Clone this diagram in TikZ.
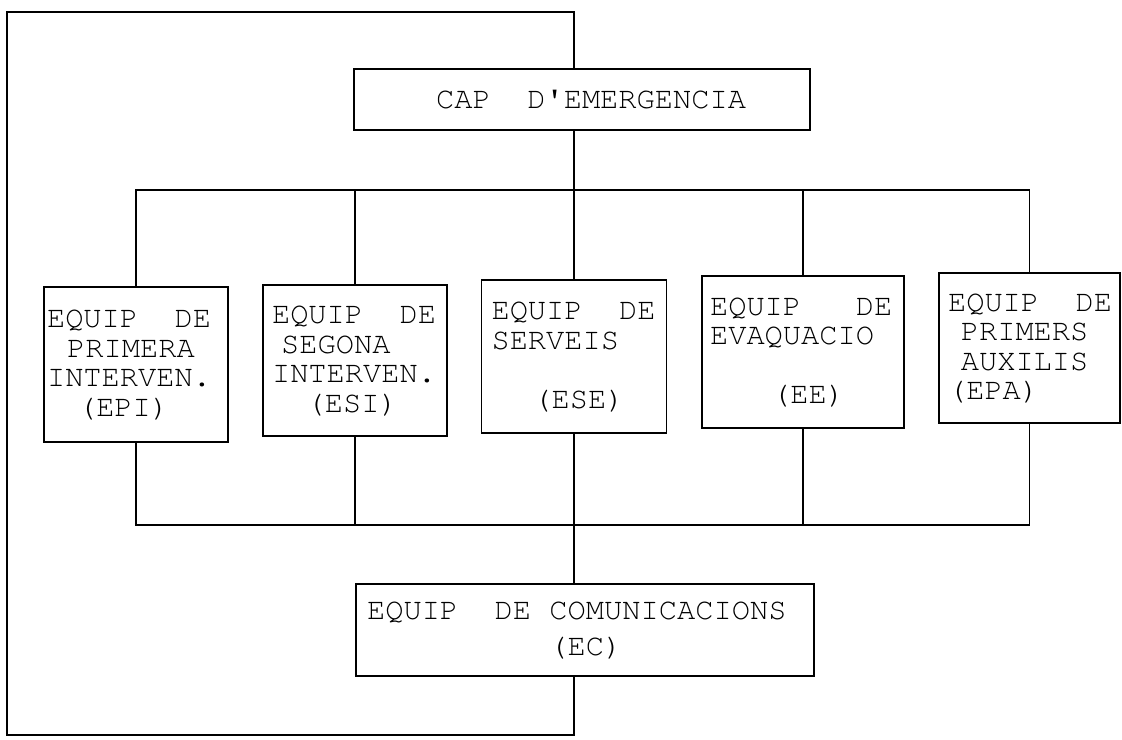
\documentclass[tikz,border=0pt]{standalone}
\usepackage[T1]{fontenc}
\usepackage{courier}
\usepackage{tikz}

\newlength{\cw}
\setlength{\cw}{10.38pt}
\newcommand{\gap}[1]{\hspace*{#1\cw}}

\begin{document}
\begin{tikzpicture}[x=0.02cm,y=-0.02cm,
	team/.style={rectangle,draw,line width=0.9pt,align=left,inner ysep=0pt,
		font=\ttfamily\fontsize{17.3}{16.8}\selectfont},
	wire/.style={line width=0.9pt}]

	\useasboundingbox (0,0) rectangle (1122,740);

	\node[team,minimum width=9.12cm,minimum height=1.22cm] (cap) at (582,99.5)
		{\gap{1}CAP\gap{2}D\textquotesingle EMERGENCIA};

	\node[team,minimum width=3.68cm,minimum height=3.10cm,text width=3.56cm,inner xsep=0.06cm] (epi) at (136,364.5)
		{EQUIP\gap{2}DE\\\gap{1.1}PRIMERA\\INTERVEN.\\\gap{1.7}(EPI)};
	\node[team,minimum width=3.68cm,minimum height=3.02cm,text width=3.32cm,inner xsep=0.18cm] (esi) at (355,360.5)
		{EQUIP\gap{2}DE\\\gap{0.5}SEGONA\\INTERVEN.\\\gap{1.9}(ESI)};
	\node[team,minimum width=3.70cm,minimum height=3.06cm,text width=3.30cm,inner xsep=0.20cm] (ese) at (574,356.5)
		{EQUIP\gap{2}DE\\SERVEIS\\\mbox{}\\\gap{2.3}(ESE)};
	\node[team,minimum width=4.04cm,minimum height=3.04cm,text width=3.72cm,inner xsep=0.16cm] (ee) at (803,352)
		{EQUIP\gap{3}DE\\EVAQUACIO\\\mbox{}\\\gap{3.4}(EE)};
	\node[team,minimum width=3.62cm,minimum height=3.00cm,text width=3.26cm,inner xsep=0.18cm] (epa) at (1029.5,348)
		{EQUIP\gap{2}DE\\\gap{0.7}PRIMERS\\\gap{0.7}AUXILIS\\(EPA)};

	\node[team,minimum width=9.16cm,minimum height=1.84cm,text width=8.72cm,inner xsep=0.22cm] (ec) at (585,630)
		{EQUIP\gap{2}DE\gap{1}COMUNICACIONS\\[3.7pt]\gap{10}(EC)};

	\coordinate (spine) at (574,0);
	\coordinate (upbus) at (0,190);
	\coordinate (lowbus) at (0,525);
	\coordinate (corner) at (7,12);
	\coordinate (foot) at (7,735);

	\draw[wire] (spine |- cap.south) -- (ese.north);
	\draw[wire] (epi.north) |- (upbus -| epa.north) -- (epa.north);
	\draw[wire] (esi.north) -- (esi.north |- upbus);
	\draw[wire] (ee.north) -- (ee.north |- upbus);

	\draw[wire] (epi.south) |- (lowbus -| epa.south) -- (epa.south);
	\draw[wire] (esi.south) -- (esi.south |- lowbus);
	\draw[wire] (ee.south) -- (ee.south |- lowbus);
	\draw[wire] (ese.south) -- (spine |- ec.north);

	\draw[wire] (spine |- ec.south) -- (spine |- foot) -- (foot) -- (corner)
		-- (spine |- corner) -- (spine |- cap.north);

\end{tikzpicture}
\end{document}
